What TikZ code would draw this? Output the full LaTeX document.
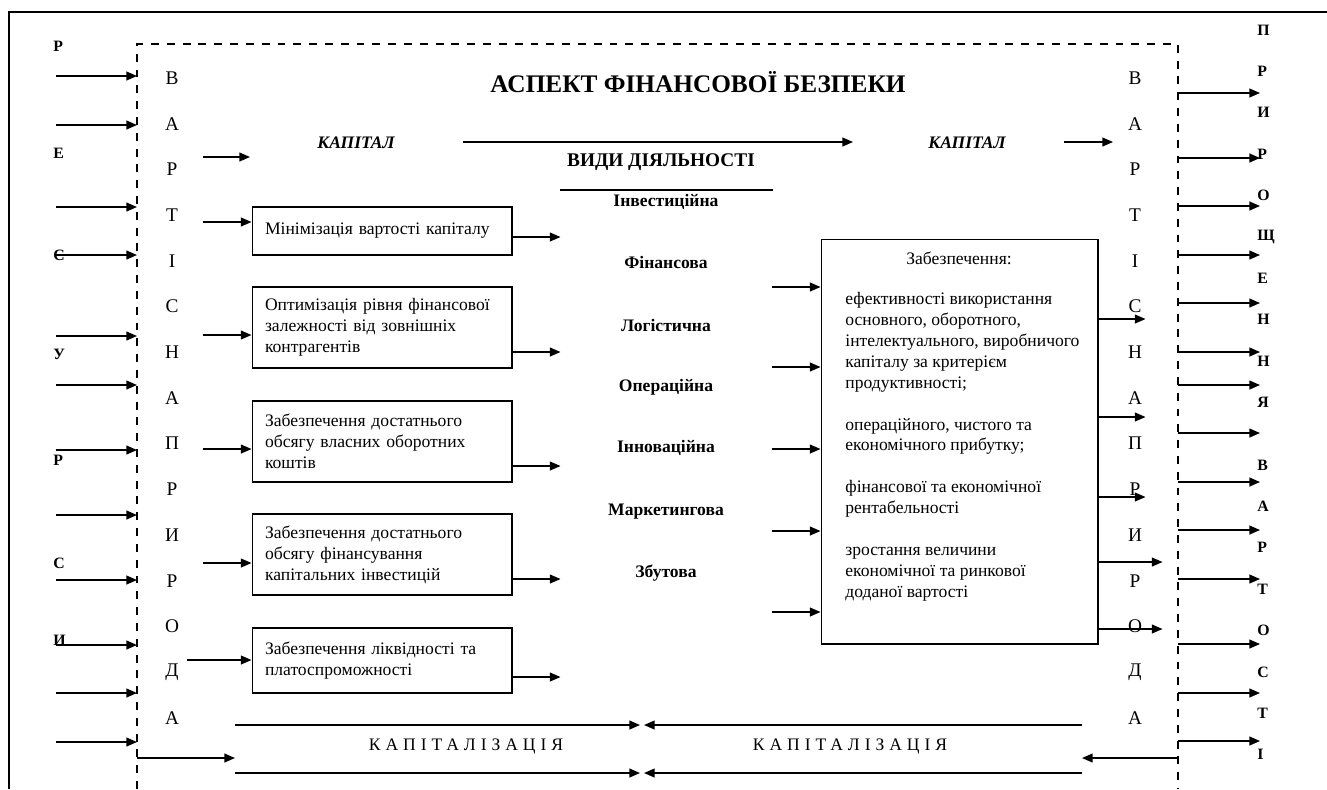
\documentclass[tikz,border=0pt]{standalone}
\usepackage{fontspec}
\setmainfont{Liberation Serif}[BoldFont={Liberation Serif Bold},ItalicFont={Liberation Serif Italic},BoldItalicFont={Liberation Serif Bold Italic}]
\newfontfamily\spacedfont[LetterSpace=28]{Liberation Serif}
\usetikzlibrary{arrows.meta,positioning}

\begin{document}
\begin{tikzpicture}[x=0.02cm,y=-0.02cm,>={Triangle[length=6pt,width=5pt]},
 box/.style={draw,line width=0.6pt,inner xsep=0.26cm,inner ysep=0pt,align=left,text width=4.68cm,minimum width=5.2cm,font=\fontsize{10}{11.9}\selectfont},
 arr/.style={->,line width=0.8pt},
 vlet/.style={inner sep=0pt,font=\fontsize{11}{12}\selectfont},
 blet/.style={inner sep=0pt,anchor=west,font=\bfseries\fontsize{9}{10}\selectfont},
 act/.style={font=\bfseries\fontsize{10}{12}\selectfont},
 kap/.style={font=\bfseries\itshape\fontsize{10}{12}\selectfont},
 capt/.style={font=\spacedfont\fontsize{10}{12}\selectfont}]
 \useasboundingbox (0,0) rectangle (1327,789);
 % frame, dashed border
 \draw[line width=1.6pt] (9,789) -- (9,12) -- (1330,12);
 \draw[dash pattern=on 4.5pt off 4.5pt,line width=0.6pt] (137,789) -- (137,44) -- (1178,44) -- (1178,789);
 % letters along the sides
 \foreach \l [count=\i] in {В,А,Р,Т,І,С,Н,А,П,Р,И,Р,О,Д,А} {
  \node[vlet] (lv\i) at (172,{78+(\i-1)*45.7}) {\l};
  \node[vlet] (rv\i) at (1135,{78+(\i-1)*45.7}) {\l};
 }
 \foreach \l/\y [count=\i] in {Р/46,Е/153,С/255,У/354,Р/460,С/563,И/640}
  \node[blet] (res\i) at (53,\y) {\l};
 \foreach \l [count=\i] in {П,Р,И,Р,О,Щ,Е,Н,Н,Я}
  \node[blet] (pr\i) at (1257,{30+(\i-1)*41.4}) {\l};
 \foreach \l [count=\i] in {В,А,Р,Т,О,С,Т,І}
  \node[blet] (vr\i) at (1257,{465+(\i-1)*41.4}) {\l};
 % arrows through the dashed border
 \foreach \y [count=\i] in {76,125,207,255,336,385,450,515,580,645,693,742} {
  \coordinate (ls\i) at (56,\y); \coordinate (le\i) at (137,\y);
  \draw[arr] (ls\i) -- (le\i);
 }
 \foreach \y [count=\i] in {93,158,206,255,303,352,385,433,482,530,579,644,693,741} {
  \coordinate (rs\i) at (1178,\y); \coordinate (re\i) at (1260,\y);
  \draw[arr] (rs\i) -- (re\i);
 }
 % top
 \node[font=\bfseries\fontsize{14.4}{17}\selectfont] (title) at (698,82) {АСПЕКТ ФІНАНСОВОЇ БЕЗПЕКИ};
 \node[kap] (kap1) at (356,143) {КАПІТАЛ};
 \node[kap] (kap2) at (967,143) {КАПІТАЛ};
 \draw[arr] (203,157) -- ++(47,0);
 \draw[arr] (463,142) -- (853,142);
 \draw[arr] (1064,142) -- ++(49,0);
 \node[font=\bfseries\fontsize{11}{13}\selectfont] (vyd) at (661,162) {ВИДИ ДІЯЛЬНОСТІ};
 \draw[line width=0.6pt] (560,190) -- (773,190);
 % kinds of activity
 \foreach \t/\y [count=\i] in {Інвестиційна/202,Фінансова/262,Логістична/325,Операційна/387,Інноваційна/448,Маркетингова/512,Збутова/573}
  \node[act] (act\i) at (666,\y) {\t};
 % left boxes
 \node[box,minimum height=0.96cm] (b1) at (382,231) {Мінімізація вартості капіталу};
 \node[box,minimum height=1.62cm] (b2) at (382,327.5) {Оптимізація рівня фінансової\\залежності від зовнішніх\\контрагентів};
 \node[box,minimum height=1.62cm] (b3) at (382,441.5) {Забезпечення достатнього\\обсягу власних оборотних\\коштів};
 \node[box,minimum height=1.62cm] (b4) at (382,554.5) {Забезпечення достатнього\\обсягу фінансування\\капітальних інвестицій};
 \node[box,minimum height=1.3cm] (b5) at (382,660.5) {Забезпечення ліквідності та\\платоспроможності};
 \draw[arr] (203,222) -- (b1.west |- 0,222);
 \draw[arr] (203,335) -- (b2.west |- 0,335);
 \draw[arr] (203,449) -- (b3.west |- 0,449);
 \draw[arr] (203,563) -- (b4.west |- 0,563);
 \draw[arr] (187,660) -- (b5.west |- 0,660);
 \draw[arr] (b1.east |- 0,237) -- ++(48,0);
 \draw[arr] (b2.east |- 0,352) -- ++(48,0);
 \draw[arr] (b3.east |- 0,466) -- ++(48,0);
 \draw[arr] (b4.east |- 0,579) -- ++(48,0);
 \draw[arr] (b5.east |- 0,677) -- ++(48,0);
 % right box
 \node[draw,line width=0.6pt,minimum width=5.54cm,minimum height=8.1cm] (big) at (959.5,441.5) {};
 \node[font=\fontsize{10}{11.9}\selectfont] (bighead) at (959,258) {Забезпечення:};
 \node[anchor=north west,inner sep=0pt,align=left,font=\fontsize{10}{11.9}\selectfont] (bigtext) at (845,292) {ефективності використання\\основного, оборотного,\\інтелектуального, виробничого\\капіталу за критерієм\\продуктивності;\\[11.9pt]операційного, чистого та\\економічного прибутку;\\[11.9pt]фінансової та економічної\\рентабельності\\[11.9pt]зростання величини\\економічної та ринкової\\доданої вартості};
 \foreach \y in {287,367,449,531,612}
  \draw[arr] (big.west |- 0,\y) ++(-49,0) -- ++(49,0);
 \foreach \y in {319,417,497}
  \draw[arr] (big.east |- 0,\y) -- ++(47,0);
 \foreach \y in {562,629}
  \draw[arr] (big.east |- 0,\y) -- ++(64,0);
 % capitalisation
 \node[capt] (cap1) at (466,747) {КАПІТАЛІЗАЦІЯ};
 \node[capt] (cap2) at (850,747) {КАПІТАЛІЗАЦІЯ};
 \draw[arr] (235,725) -- (640,725);
 \draw[arr] (1082,725) -- (644,725);
 \draw[arr] (235,773) -- (640,773);
 \draw[arr] (1082,773) -- (644,773);
 \draw[arr] (137,758) -- (235,758);
 \draw[arr] (1178,758) -- (1082,758);
\end{tikzpicture}
\end{document}
